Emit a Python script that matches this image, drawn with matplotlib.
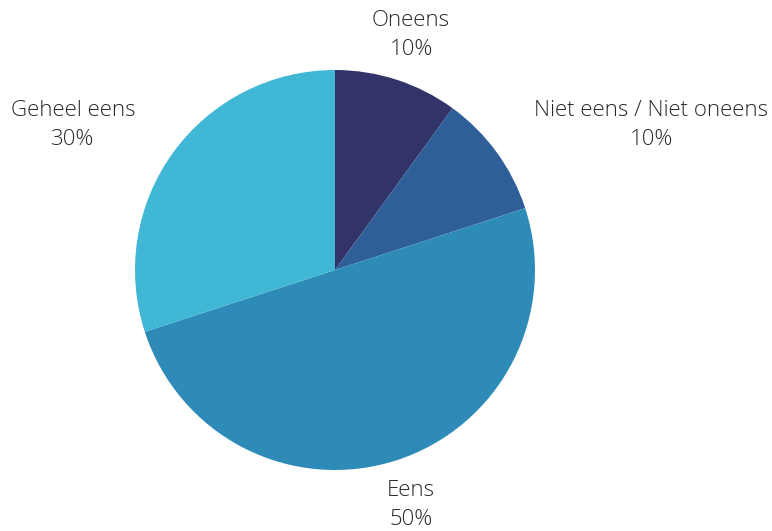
import matplotlib

matplotlib.use("Agg")
import matplotlib.pyplot as plt

labels = ["Oneens", "Niet eens / Niet oneens", "Eens", "Geheel eens"]
values = [10, 10, 50, 30]
colors = ["#323469", "#2e5f98", "#2e8bb8", "#41b7d6"]

W, H = 772, 531
CX, CY, R = 335, 270, 200

fig = plt.figure(figsize=(W / 100, H / 100), dpi=100)
ax = fig.add_axes([(CX - R) / W, (H - CY - R) / H, 2 * R / W, 2 * R / H])
ax.pie(values, colors=colors, startangle=90, counterclock=False,
       wedgeprops=dict(linewidth=0))
ax.set_xlim(-1, 1)
ax.set_ylim(-1, 1)
ax.set_aspect("equal")
ax.axis("off")

# label anchor points in pixels (center of the two-line label)
label_px = [(411, 35), (651, 125), (411, 505), (73, 125)]
for lab, val, (px, py) in zip(labels, values, label_px):
    ax.text((px - CX) / R, (CY - py) / R, f"{lab}\n{val}%",
            ha="center", va="center", fontsize=16, family="Open Sans",
            fontweight="light", color="#2a2a2a", linespacing=1.45,
            clip_on=False)

fig.savefig("out.png", dpi=100)
